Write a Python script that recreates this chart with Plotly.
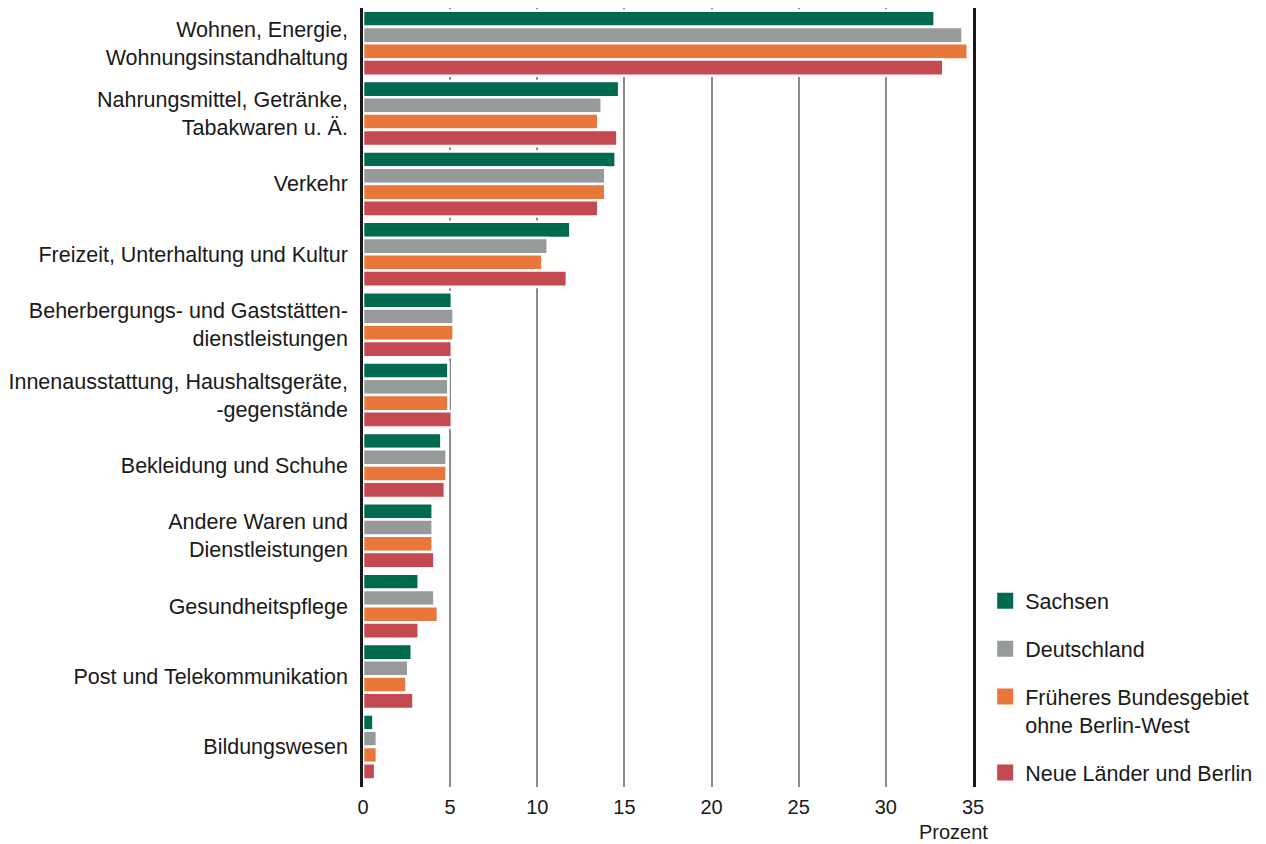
import plotly.graph_objects as go

categories = [
    "Wohnen, Energie,<br>Wohnungsinstandhaltung",
    "Nahrungsmittel, Getränke,<br>Tabakwaren u. Ä.",
    "Verkehr",
    "Freizeit, Unterhaltung und Kultur",
    "Beherbergungs- und Gaststätten-<br>dienstleistungen",
    "Innenausstattung, Haushaltsgeräte,<br>-gegenstände",
    "Bekleidung und Schuhe",
    "Andere Waren und<br>Dienstleistungen",
    "Gesundheitspflege",
    "Post und Telekommunikation",
    "Bildungswesen",
]

series_names = ["Sachsen", "Deutschland", "Früheres Bundesgebiet<br>ohne Berlin-West", "Neue Länder und Berlin"]
sachsen = [32.8, 14.7, 14.5, 11.9, 5.1, 4.9, 4.5, 4.0, 3.2, 2.8, 0.6]
deutschland = [34.4, 13.7, 13.9, 10.6, 5.2, 4.9, 4.8, 4.0, 4.1, 2.6, 0.8]
frueheres = [34.7, 13.5, 13.9, 10.3, 5.2, 4.9, 4.8, 4.0, 4.3, 2.5, 0.8]
neue = [33.3, 14.6, 13.5, 11.7, 5.1, 5.1, 4.7, 4.1, 3.2, 2.9, 0.7]
series_values = [sachsen, deutschland, frueheres, neue]
colors = ["#006A4E", "#979A9A", "#E9773A", "#C44950"]

x_ticks = [0, 5, 10, 15, 20, 25, 30, 35]

FONT = "Liberation Sans, Arial, sans-serif"
TXT = "#1a1a1a"

fig = go.Figure()
for name, vals, col in zip(series_names, series_values, colors):
    fig.add_trace(go.Bar(
        x=vals, y=categories, orientation="h", name=name,
        marker=dict(color=col, line=dict(color="white", width=2.6)),
        legendgroup=name, showlegend=False,
    ))
for name, col in zip(series_names, colors):
    fig.add_trace(go.Scatter(
        x=[None], y=[None], mode="markers", name=name,
        marker=dict(symbol="square", size=16, color=col),
        legendgroup=name, showlegend=True,
    ))

fig.update_layout(
    template="none",
    width=1266, height=844,
    margin=dict(l=355, r=301, t=0, b=65, autoexpand=False),
    plot_bgcolor="white", paper_bgcolor="white",
    barmode="group", bargap=0.075, bargroupgap=0,
    font=dict(family=FONT, size=21.5, color=TXT),
    showlegend=True,
    legend=dict(
        x=1.02, xanchor="left", y=-0.008, yanchor="bottom",
        traceorder="grouped", tracegroupgap=17, valign="top",
        font=dict(family=FONT, size=21.5, color=TXT),
        bgcolor="rgba(0,0,0,0)",
    ),
    xaxis=dict(
        automargin=False,
        range=[0, 35], tickvals=x_ticks, ticktext=[str(v) for v in x_ticks],
        showgrid=True, gridcolor="#8c8c8c", gridwidth=2,
        zeroline=False, showline=False, ticks="",
        ticklabelstandoff=6,
        tickfont=dict(family=FONT, size=20, color=TXT),
    ),
    yaxis=dict(
        automargin=False,
        type="category", categoryorder="array", categoryarray=categories,
        range=[10.57, -0.5],
        showgrid=False, zeroline=False,
        showline=True, mirror=True, linecolor="#1a1a1a", linewidth=2.5,
        ticks="", ticklabelstandoff=8,
        tickfont=dict(family=FONT, size=21.5, color=TXT),
    ),
    annotations=[dict(
        text="Prozent", xref="paper", yref="paper", x=1, y=0,
        xanchor="right", yanchor="middle", xshift=17, yshift=-45,
        showarrow=False, font=dict(family=FONT, size=20, color=TXT),
    )],
)

fig.write_html("out.html")
